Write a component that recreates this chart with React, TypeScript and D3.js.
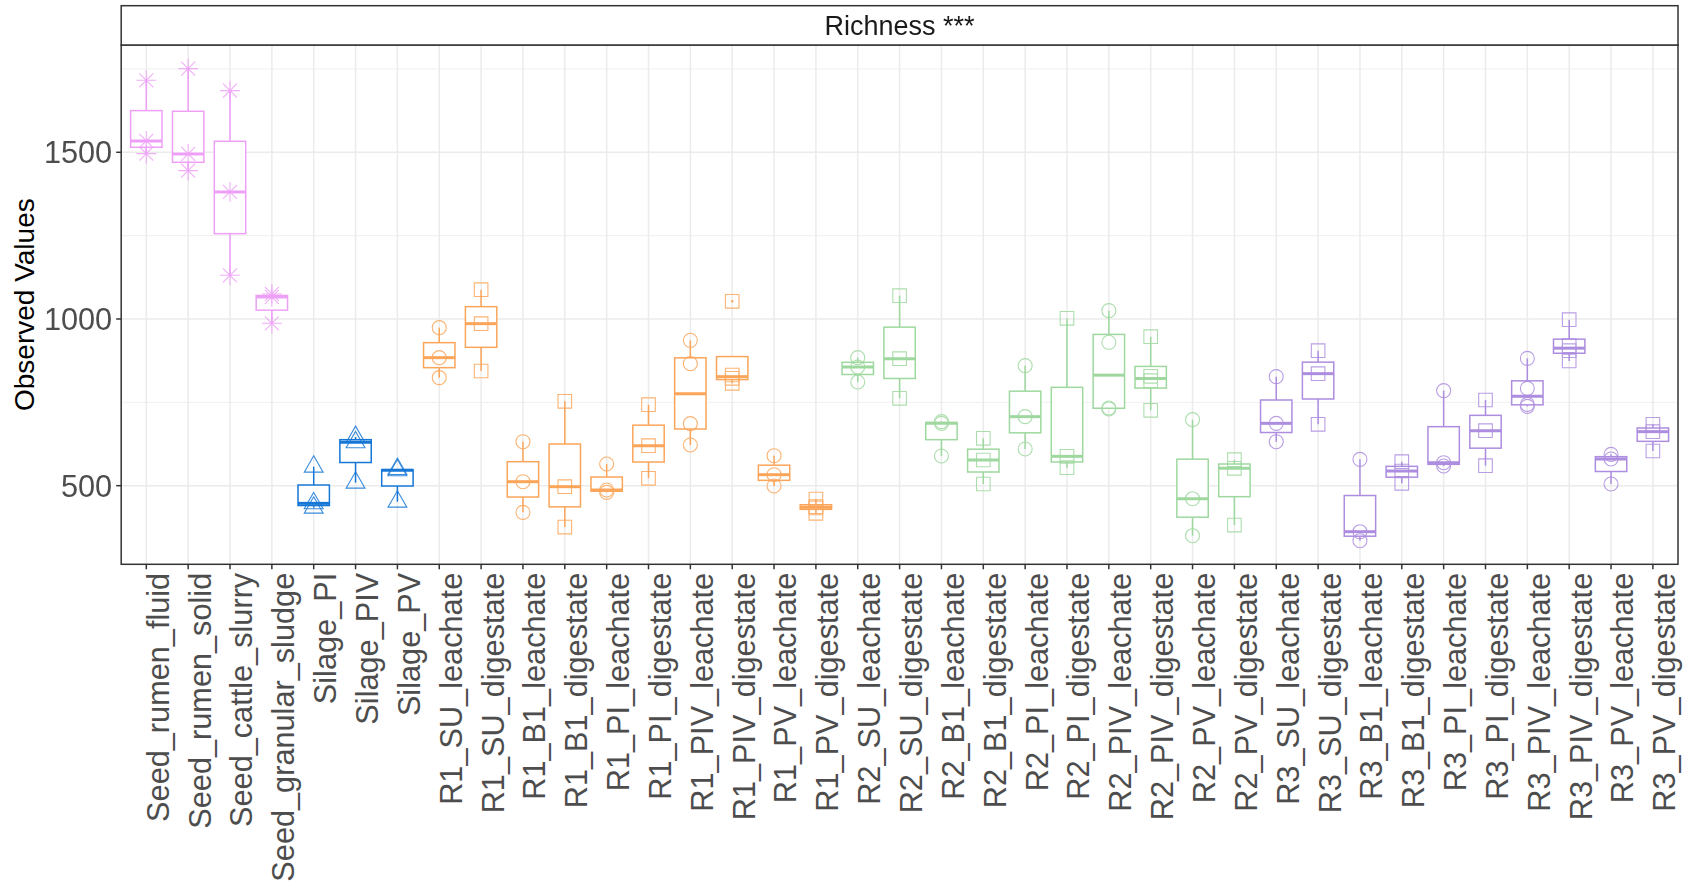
import React from "react";
import * as d3 from "d3";

// Sample labels in plotting order
const categories: string[] = [
  "Seed_rumen_fluid", "Seed_rumen_solid", "Seed_cattle_slurry", "Seed_granular_sludge",
  "Silage_PI", "Silage_PIV", "Silage_PV",
  "R1_SU_leachate", "R1_SU_digestate", "R1_B1_leachate", "R1_B1_digestate",
  "R1_PI_leachate", "R1_PI_digestate", "R1_PIV_leachate", "R1_PIV_digestate",
  "R1_PV_leachate", "R1_PV_digestate",
  "R2_SU_leachate", "R2_SU_digestate", "R2_B1_leachate", "R2_B1_digestate",
  "R2_PI_leachate", "R2_PI_digestate", "R2_PIV_leachate", "R2_PIV_digestate",
  "R2_PV_leachate", "R2_PV_digestate",
  "R3_SU_leachate", "R3_SU_digestate", "R3_B1_leachate", "R3_B1_digestate",
  "R3_PI_leachate", "R3_PI_digestate", "R3_PIV_leachate", "R3_PIV_digestate",
  "R3_PV_leachate", "R3_PV_digestate",
];

// Observed richness (number of observed features) per sample replicate
const observed: number[][] = [
  [1496, 1534, 1716],
  [1445, 1495, 1751],
  [1131, 1381, 1685],
  [987, 1066, 1075],
  [434, 447, 557],
  [509, 630, 646],
  [452, 546, 550],
  [824, 884, 974],
  [844, 986, 1088],
  [420, 512, 632],
  [376, 497, 753],
  [480, 487, 565],
  [522, 620, 743],
  [622, 686, 866, 936],
  [807, 822, 832, 1053],
  [499, 533, 590],
  [417, 433, 437, 460],
  [811, 856, 884],
  [762, 881, 1070],
  [589, 687, 692],
  [505, 577, 642],
  [610, 707, 860],
  [554, 588, 1002],
  [730, 733, 930, 1025],
  [726, 815, 828, 947],
  [350, 461, 698],
  [382, 552, 578],
  [632, 687, 827],
  [684, 836, 905],
  [335, 362, 579],
  [507, 544, 572],
  [559, 569, 785],
  [560, 665, 757],
  [738, 744, 792, 882],
  [874, 905, 920, 998],
  [505, 580, 594],
  [604, 662, 684],
];

const yTicks: number[] = [500, 1000, 1500];
const yMinorTicks: number[] = [250, 750, 1250, 1750];

const stripLabel = "Richness ***";
const yTitle = "Observed Values";

// Colour per sample origin
const originColours: Record<string, string> = {
  Seed: "#EEA0F7",
  Silage: "#1677D6",
  R1: "#FBA55A",
  R2: "#9ED89F",
  R3: "#AD8DDF",
};

const originOf = (name: string) => name.split("_")[0];
const shapeOf = (name: string) => {
  if (name.startsWith("Seed")) return "star";
  if (name.startsWith("Silage")) return "triangle";
  if (name.endsWith("leachate")) return "circle";
  return "square";
};

const W = 1686;
const H = 890;
const panel = { left: 121.2, right: 1678, top: 45, bottom: 564.3 };
const stripTop = 5.7;
const FONT = "'Liberation Sans', Arial, Helvetica, sans-serif";
const AXIS_FONT = 30.7;

function shapePath(kind: string): string {
  const R = 7;
  if (kind === "circle") {
    return `M${-R},0a${R},${R} 0 1,0 ${2 * R},0a${R},${R} 0 1,0 ${-2 * R},0Z`;
  }
  if (kind === "square") {
    const h = 6.8;
    return `M${-h},${-h}H${h}V${h}H${-h}Z`;
  }
  if (kind === "triangle") {
    const r = 1.5551 * R;
    const xc = (r * Math.sqrt(3)) / 2;
    return `M0,${-r}L${xc},${r / 2}L${-xc},${r / 2}Z`;
  }
  // asterisk: a cross and a plus
  const p = Math.SQRT2 * R;
  return `M${-R},${-R}L${R},${R}M${-R},${R}L${R},${-R}M${-p},0H${p}M0,${-p}V${p}`;
}

export default function App() {
  const x = d3.scalePoint<string>().domain(categories).range([panel.left, panel.right]).padding(0.6);
  const step = x.step();
  const boxW = step * 0.75;

  const all = observed.flat();
  const lo = d3.min(all) as number;
  const hi = d3.max(all) as number;
  const pad = (hi - lo) * 0.05;
  const y = d3.scaleLinear().domain([lo - pad, hi + pad]).range([panel.bottom, panel.top]);
  const [dLo, dHi] = y.domain();

  const boxes = categories.map((name, i) => {
    const vals = observed[i].slice().sort(d3.ascending);
    const q1 = d3.quantileSorted(vals, 0.25) as number;
    const med = d3.quantileSorted(vals, 0.5) as number;
    const q3 = d3.quantileSorted(vals, 0.75) as number;
    const iqr = q3 - q1;
    const inside = vals.filter((v) => v >= q1 - 1.5 * iqr && v <= q3 + 1.5 * iqr);
    const outliers = vals.filter((v) => v < q1 - 1.5 * iqr || v > q3 + 1.5 * iqr);
    return {
      name,
      vals,
      q1,
      med,
      q3,
      wLo: d3.min(inside) as number,
      wHi: d3.max(inside) as number,
      outliers,
      colour: originColours[originOf(name)],
      shape: shapeOf(name),
    };
  });

  const grid = "#EBEBEB";
  const axisText = "#4D4D4D";
  const frame = "#333333";
  const capShift = AXIS_FONT * 0.358; // half cap height, to centre digits on a tick

  return (
    <svg
      width={W}
      height={H}
      viewBox={`0 0 ${W} ${H}`}
      style={{ position: "absolute", left: 0, top: 0, display: "block", background: "#fff" }}
      fontFamily={FONT}
    >
      <rect x={0} y={0} width={W} height={H} fill="#fff" />

      {/* panel grid */}
      <g>
        {yMinorTicks
          .filter((t) => t > dLo && t < dHi)
          .map((t) => (
            <line key={`mn${t}`} x1={panel.left} x2={panel.right} y1={y(t)} y2={y(t)} stroke={grid} strokeWidth={0.8} />
          ))}
        {yTicks.map((t) => (
          <line key={`mj${t}`} x1={panel.left} x2={panel.right} y1={y(t)} y2={y(t)} stroke={grid} strokeWidth={1.5} />
        ))}
        {categories.map((c) => (
          <line key={`v${c}`} x1={x(c)} x2={x(c)} y1={panel.top} y2={panel.bottom} stroke={grid} strokeWidth={1.5} />
        ))}
      </g>

      {/* boxplots */}
      <g fill="none">
        {boxes.map((b) => {
          const cx = x(b.name) as number;
          return (
            <g key={`b${b.name}`} stroke={b.colour}>
              {b.wHi > b.q3 && <line x1={cx} x2={cx} y1={y(b.q3)} y2={y(b.wHi)} strokeWidth={1.5} />}
              {b.wLo < b.q1 && <line x1={cx} x2={cx} y1={y(b.q1)} y2={y(b.wLo)} strokeWidth={1.5} />}
              <rect
                x={cx - boxW / 2}
                y={y(b.q3)}
                width={boxW}
                height={Math.max(0.5, y(b.q1) - y(b.q3))}
                fill="#fff"
                strokeWidth={1.5}
              />
              <line x1={cx - boxW / 2} x2={cx + boxW / 2} y1={y(b.med)} y2={y(b.med)} strokeWidth={3} />
              {b.outliers.map((o, k) => (
                <circle key={k} cx={cx} cy={y(o)} r={1.2} fill={b.colour} stroke="none" />
              ))}
            </g>
          );
        })}
      </g>

      {/* replicate points */}
      <g fill="none" strokeWidth={1.1} opacity={0.85}>
        {boxes.map((b) =>
          b.vals.map((v, k) => (
            <path
              key={`p${b.name}${k}`}
              d={shapePath(b.shape)}
              transform={`translate(${x(b.name)},${y(v)})`}
              stroke={b.colour}
            />
          ))
        )}
      </g>

      {/* panel border */}
      <rect
        x={panel.left}
        y={panel.top}
        width={panel.right - panel.left}
        height={panel.bottom - panel.top}
        fill="none"
        stroke={frame}
        strokeWidth={1.5}
      />

      {/* facet strip */}
      <rect
        x={panel.left}
        y={stripTop}
        width={panel.right - panel.left}
        height={panel.top - stripTop}
        fill="#fff"
        stroke={frame}
        strokeWidth={1.5}
      />
      <text x={(panel.left + panel.right) / 2} y={35} textAnchor="middle" fontSize={27} fill="#1A1A1A">
        {stripLabel}
      </text>

      {/* y axis */}
      <g>
        {yTicks.map((t) => (
          <g key={`yt${t}`}>
            <line x1={panel.left - 5} x2={panel.left} y1={y(t)} y2={y(t)} stroke={frame} strokeWidth={1.5} />
            <text x={panel.left - 9} y={y(t) + capShift} textAnchor="end" fontSize={AXIS_FONT} fill={axisText}>
              {t}
            </text>
          </g>
        ))}
        <text
          transform={`translate(24,${(panel.top + panel.bottom) / 2}) rotate(-90)`}
          textAnchor="middle"
          dominantBaseline="central"
          fontSize={28}
          fill="#000"
        >
          {yTitle}
        </text>
      </g>

      {/* x axis: rotated labels hang to the right of each tick */}
      <g>
        {categories.map((c) => (
          <g key={`xt${c}`}>
            <line x1={x(c)} x2={x(c)} y1={panel.bottom} y2={panel.bottom + 5} stroke={frame} strokeWidth={1.5} />
            <text
              transform={`translate(${(x(c) as number) + AXIS_FONT * 0.73},${panel.bottom + 8.5}) rotate(-90)`}
              textAnchor="end"
              fontSize={AXIS_FONT}
              fill={axisText}
            >
              {c}
            </text>
          </g>
        ))}
      </g>
    </svg>
  );
}
